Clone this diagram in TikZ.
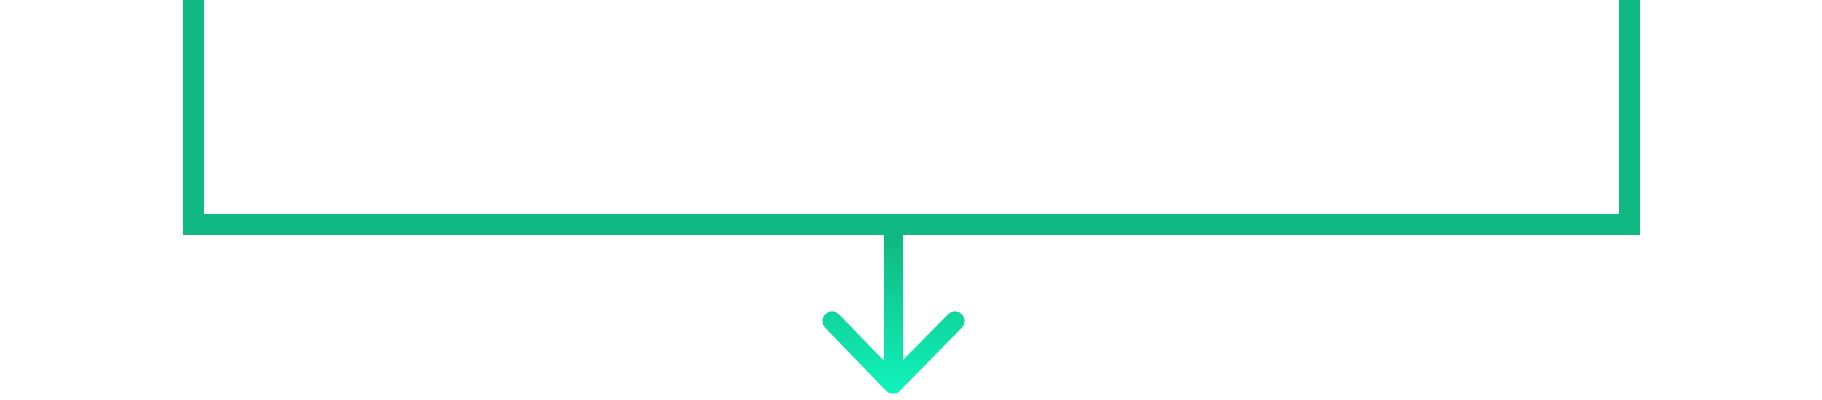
\documentclass[tikz,border=0pt]{standalone}
\usetikzlibrary{positioning}
\definecolor{bargreen}{RGB}{16,185,129}
\definecolor{tipgreen}{RGB}{16,245,190}

\begin{document}
\begin{tikzpicture}[x = 0.5pt, y = -0.5pt]
	\tikzset{bracket/.style = {line width = 10.5pt, draw = bargreen, line join = miter},
		arrowline/.style = {line width = 9.5pt, line cap = round, line join = round}}
	% Frame
	\useasboundingbox (0, 0) rectangle (1822, 400);
	
	% Points
	\coordinate (left) at (193, -20);
	\coordinate (right) at (1629, -20);
	\coordinate (bar) at (893, 225);
	\coordinate (tip) at (893, 384);
	\coordinate (wingl) at (832, 321);
	\coordinate (wingr) at (955, 321);
	
	% Bracket
	\draw[bracket] (left) |- (bar) -| (right);
	
	% Arrow, slice by slice for the gradient
	\foreach \y in {236, 240, ..., 400} {
		\pgfmathtruncatemacro{\p}{min(100, max(0, (\y - 236) / 1.6))}
		\colorlet{slice}{tipgreen!\p!bargreen}
		\begin{scope}
			\clip (800, \y) rectangle (1000, \y + 5);
			\draw[arrowline, slice] (bar) -- (tip);
			\draw[arrowline, slice] (wingl) -- (tip) -- (wingr);
		\end{scope}
	}
\end{tikzpicture}
\end{document}
